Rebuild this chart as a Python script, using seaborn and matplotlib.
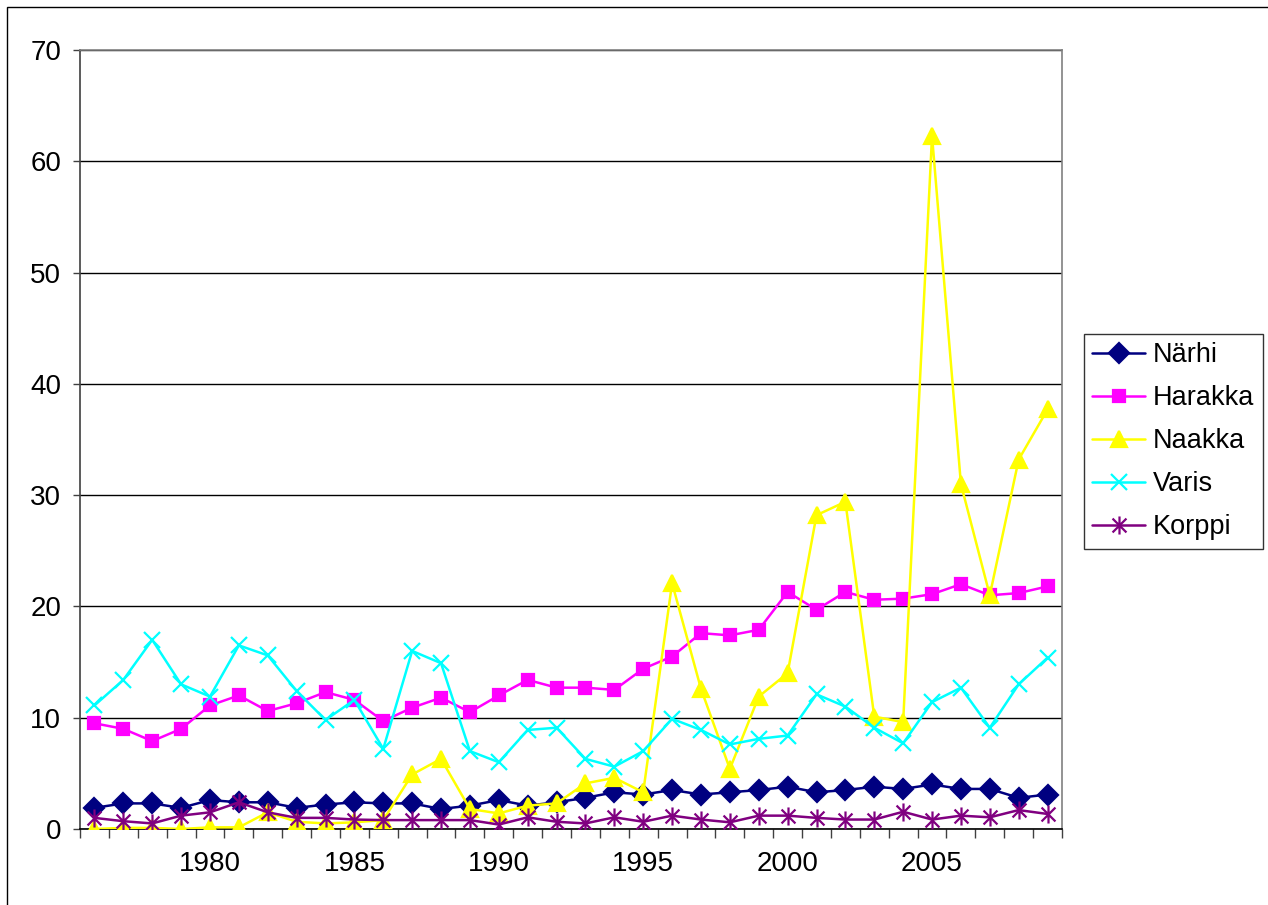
import matplotlib
matplotlib.use("Agg")
import matplotlib.pyplot as plt
import numpy as np
import pandas as pd
import seaborn as sns
from matplotlib.patches import Rectangle
from matplotlib.path import Path

years = list(range(1976, 2010))

narhi = [1.9, 2.3, 2.3, 1.9, 2.6, 2.4, 2.4, 1.9, 2.2, 2.4, 2.3, 2.3, 1.8, 2.1, 2.6, 2.1, 2.4,
         2.8, 3.3, 3.1, 3.5, 3.1, 3.3, 3.5, 3.8, 3.3, 3.5, 3.8, 3.6, 4.0, 3.6, 3.6, 2.8, 3.1]
harakka = [9.5, 9.0, 7.9, 9.0, 11.1, 12.0, 10.6, 11.3, 12.3, 11.6, 9.7, 10.9, 11.8, 10.5, 12.0,
           13.4, 12.7, 12.7, 12.5, 14.4, 15.5, 17.6, 17.4, 17.9, 21.3, 19.7, 21.3, 20.6, 20.7,
           21.1, 22.0, 21.0, 21.2, 21.8]
naakka = [0.0, 0.1, 0.1, 0.0, 0.15, 0.15, 1.5, 0.65, 0.5, 0.6, 0.8, 4.9, 6.3, 1.8, 1.4, 2.1,
          2.3, 4.1, 4.6, 3.3, 22.1, 12.6, 5.4, 11.9, 14.0, 28.2, 29.4, 10.1, 9.6, 62.3, 31.0,
          21.0, 33.2, 37.7]
varis = [11.1, 13.4, 17.0, 13.0, 11.9, 16.5, 15.6, 12.4, 9.8, 11.6, 7.2, 16.0, 14.9, 7.0, 6.0,
         8.9, 9.1, 6.3, 5.6, 7.0, 9.9, 8.9, 7.6, 8.1, 8.4, 12.1, 11.0, 9.1, 7.7, 11.4, 12.7,
         9.1, 13.0, 15.4]
korppi = [1.0, 0.7, 0.5, 1.2, 1.5, 2.4, 1.5, 1.0, 1.0, 0.85, 0.8, 0.8, 0.8, 0.8, 0.4, 1.05,
          0.65, 0.5, 1.05, 0.65, 1.2, 0.85, 0.6, 1.2, 1.2, 1.0, 0.85, 0.85, 1.55, 0.85, 1.2,
          1.05, 1.7, 1.35]

names = ["Närhi", "Harakka", "Naakka", "Varis", "Korppi"]
values = [narhi, harakka, naakka, varis, korppi]
colors = ["#000080", "#FF00FF", "#FFFF00", "#00FFFF", "#800080"]

# Excel-style star: an X with a vertical bar
star = Path([(-1, -1), (1, 1), (-1, 1), (1, -1), (0, -1.3), (0, 1.3)],
            [Path.MOVETO, Path.LINETO, Path.MOVETO, Path.LINETO, Path.MOVETO, Path.LINETO])
markers = ["D", "s", "^", "x", star]
msizes = [10.5, 9, 12, 11, 13]

df = pd.DataFrame({"year": years})
for name, vals in zip(names, values):
    df[name] = vals

sns.set_style("white")
plt.rcParams["font.family"] = ["Liberation Sans", "DejaVu Sans"]
plt.rcParams["text.color"] = "black"
plt.rcParams["xtick.color"] = "black"
plt.rcParams["ytick.color"] = "black"

W, H = 1268, 905
fig = plt.figure(figsize=(W / 100, H / 100), dpi=100)
ax = fig.add_axes([80 / W, 1 - 829 / H, (1062 - 80) / W, (829 - 50) / H])

for i, (name, color, mk, ms) in enumerate(zip(names, colors, markers, msizes)):
    sns.lineplot(data=df, x="year", y=name, ax=ax, color=color, marker=mk,
                 markersize=ms, markeredgecolor=color, markerfacecolor=color,
                 markeredgewidth=1.6, linewidth=1.8, label=name, legend=False,
                 zorder=3 + i)

ax.set_xlim(1975.5, 2009.5)
ax.set_ylim(0, 70)
ax.set_yticks(np.arange(0, 71, 10))
ax.set_xticks([1980, 1985, 1990, 1995, 2000, 2005])
ax.set_xticks(np.arange(1975.5, 2010, 1), minor=True)
ax.set_xlabel("")
ax.set_ylabel("")

ax.grid(axis="y", color="black", linewidth=1.0)
ax.set_axisbelow(True)
ax.tick_params(axis="y", which="major", direction="out", length=5, width=1,
               color="#404040", labelcolor="black", pad=8.5, labelsize=20, left=True)
ax.tick_params(axis="x", which="major", length=0, pad=16, labelsize=20,
               labelcolor="black")
ax.tick_params(axis="x", which="minor", direction="out", length=6.5, width=1,
               color="#404040", bottom=True)

ax.spines["left"].set_color("#404040")
ax.spines["bottom"].set_color("black")
ax.spines["right"].set_color("#808080")
ax.spines["top"].set_color("#808080")
for s in ax.spines.values():
    s.set_linewidth(1.2)

handles, labels = ax.get_legend_handles_labels()
leg = fig.legend(handles, labels, loc="upper left",
                 bbox_to_anchor=(1084 / W, 1 - 334 / H), bbox_transform=fig.transFigure,
                 fontsize=19.5, frameon=True, fancybox=False, borderaxespad=0,
                 handlelength=1.95, handletextpad=0.3, labelspacing=0.63,
                 borderpad=0.3, numpoints=1)
leg.get_frame().set_edgecolor("black")
leg.get_frame().set_linewidth(1.0)
for t in leg.get_texts():
    t.set_color("black")

# outer chart-area border
fig.patches.append(Rectangle((7 / W, -0.1), 1.2, 1.1 - 7 / H, transform=fig.transFigure,
                             fill=False, edgecolor="black", linewidth=1.0))

fig.savefig("out.png", dpi=100)
